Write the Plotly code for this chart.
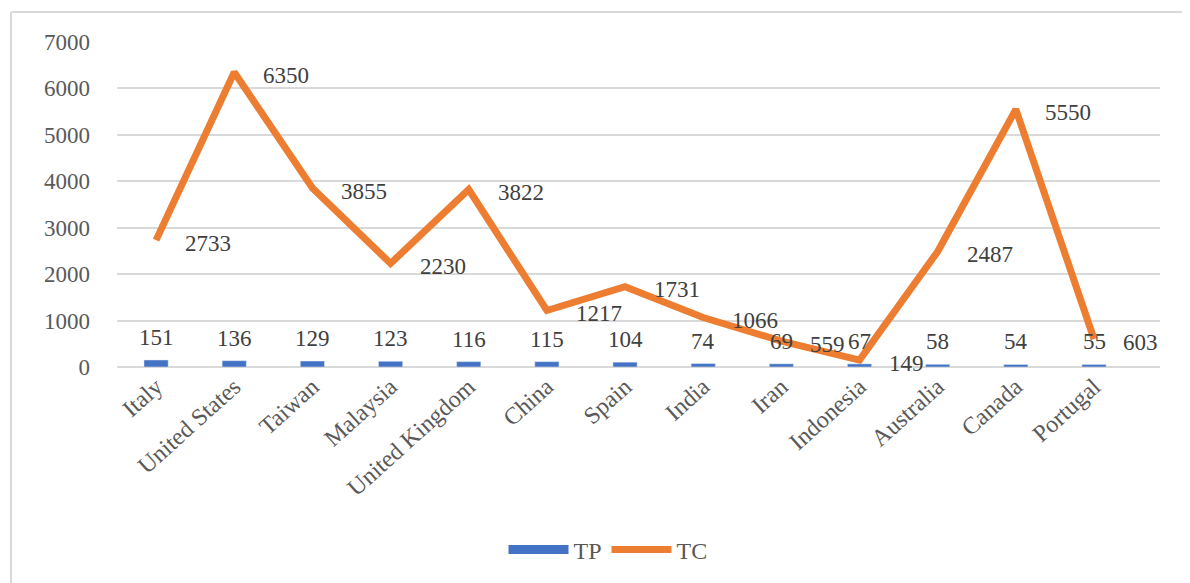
import plotly.graph_objects as go

countries = ["Italy", "United States", "Taiwan", "Malaysia", "United Kingdom", "China",
             "Spain", "India", "Iran", "Indonesia", "Australia", "Canada", "Portugal"]
tp_values = [151, 136, 129, 123, 116, 115, 104, 74, 69, 67, 58, 54, 55]
tc_values = [2733, 6350, 3855, 2230, 3822, 1217, 1731, 1066, 559, 149, 2487, 5550, 603]
y_ticks = [0, 1000, 2000, 3000, 4000, 5000, 6000, 7000]

FONT = "Liberation Serif, Times New Roman, serif"
OFF = 8  # page body margin offset
W, H = 1190 - OFF, 583 - OFF
L, T = 117 - OFF, 42 - OFF
pw, ph = 1043, 325
R = W - L - pw
B = H - T - ph

def px_x(p):
    p = p - OFF
    return (p - L) / pw

def px_y(p):
    p = p - OFF
    return (T + ph - p) / ph

fig = go.Figure()
fig.add_trace(go.Bar(
    x=countries, y=tp_values, name="TP", showlegend=False, legendgroup="tp",
    marker=dict(color="#4472C4"), width=0.31,
))
# legend-only entry to show the wide blue swatch
fig.add_trace(go.Scatter(
    x=[None], y=[None], name="TP", mode="lines", legendgroup="tp",
    line=dict(color="#4472C4", width=9),
))
fig.add_trace(go.Scatter(
    x=countries, y=tc_values, name="TC", mode="lines",
    line=dict(color="#ED7D31", width=7, shape="linear"),
))

annotations = []
for c, v in zip(countries, tp_values):
    annotations.append(dict(x=c, y=v, text=str(v), showarrow=False, xanchor="center",
                            yanchor="bottom", yshift=8,
                            font=dict(family=FONT, size=23, color="#404040")))
for c, v in zip(countries, tc_values):
    annotations.append(dict(x=c, y=v, text=str(v), showarrow=False, xanchor="left",
                            yanchor="middle", xshift=27, yshift=-3,
                            font=dict(family=FONT, size=23, color="#404040")))

shapes = [
    dict(type="line", xref="paper", yref="paper", x0=px_x(11), x1=px_x(1200),
         y0=px_y(12), y1=px_y(12), line=dict(color="#D9D9D9", width=2)),
    dict(type="line", xref="paper", yref="paper", x0=px_x(11), x1=px_x(11),
         y0=px_y(12), y1=px_y(600), line=dict(color="#D9D9D9", width=2)),
]

fig.update_layout(
    width=W, height=H,
    margin=dict(l=L, r=R, t=T, b=B, autoexpand=False),
    paper_bgcolor="white", plot_bgcolor="white",
    font=dict(family=FONT, size=23, color="#595959"),
    showlegend=True,
    legend=dict(orientation="h", x=px_x(608), y=px_y(550), xanchor="center", yanchor="middle",
                itemwidth=60,
                font=dict(family=FONT, size=24, color="#595959"), traceorder="normal"),
    xaxis=dict(tickangle=-42, showgrid=False, showline=False, ticks="",
               tickfont=dict(family=FONT, size=24, color="#595959")),
    yaxis=dict(range=[0, 7000], tickvals=y_ticks, showgrid=True, gridcolor="#D9D9D9",
               gridwidth=1.5, zeroline=True, zerolinecolor="#D9D9D9", zerolinewidth=1.5,
               showline=False, ticks="", ticklabelstandoff=26,
               tickfont=dict(family=FONT, size=23, color="#595959")),
    annotations=annotations,
    shapes=shapes,
    bargap=0.69,
)

fig.write_html("out.html")
